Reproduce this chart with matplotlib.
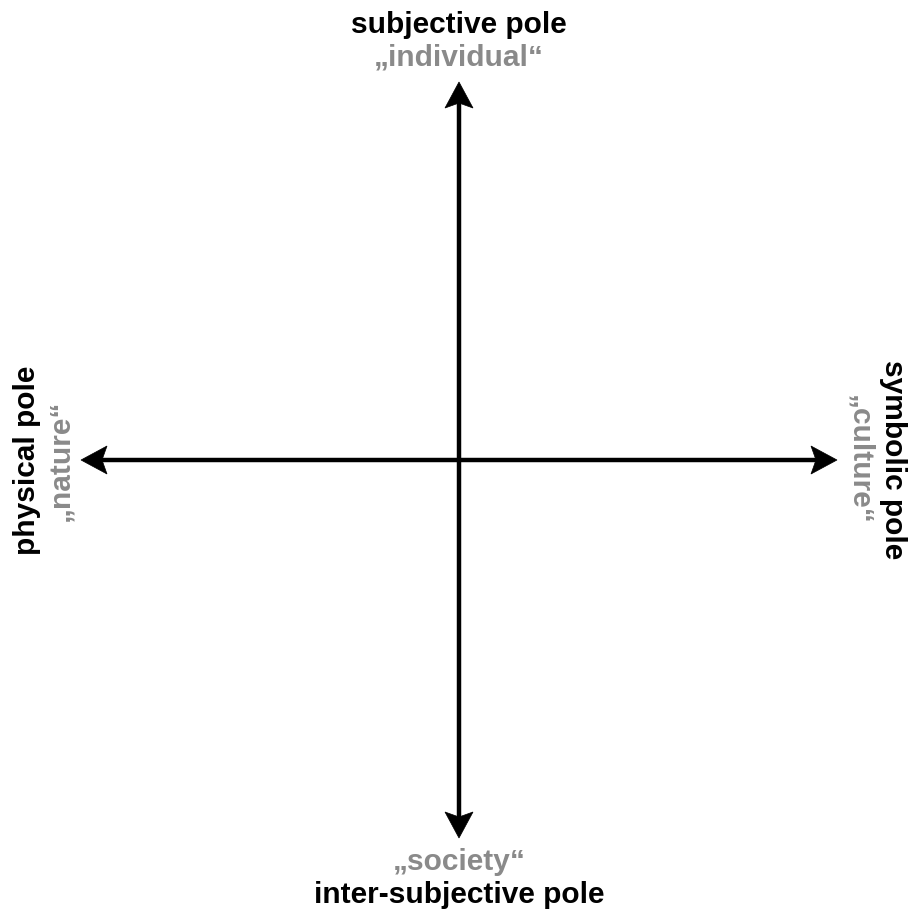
import numpy as np
import matplotlib.pyplot as plt
from matplotlib.patches import Polygon

# pole labels: (main, quoted)
top_labels = ["subjective pole", "\u201eindividual\u201c"]
bottom_labels = ["\u201esociety\u201c", "inter-subjective pole"]
left_labels = ["physical pole", "\u201enature\u201c"]
right_labels = ["symbolic pole", "\u201eculture\u201c"]

black = "#000000"
gray = "#8a8a8a"

plt.rcParams['font.family'] = ['Liberation Sans', 'DejaVu Sans']

fig = plt.figure(figsize=(9.11, 9.10), dpi=100)
ax = fig.add_axes([0, 0, 1, 1])
ax.set_xlim(-459, 452)
ax.set_ylim(-450, 460)
ax.axis("off")

L = 378          # half length of each axis (tip to centre)
head_len = 26
head_w = 14
notch = 5

def head(direction):
    d = np.array(direction, float)
    n = np.array([-d[1], d[0]])
    tip = d * L
    back = d * (L - head_len)
    pts = [tip, back + n * head_w, d * (L - head_len + notch), back - n * head_w]
    ax.add_patch(Polygon(pts, closed=True, color=black, lw=0.5, zorder=3))

base = L - head_len + notch + 1
ax.plot([-base, base], [0, 0], color=black, lw=3.2, solid_capstyle="butt")
ax.plot([0, 0], [-base, base], color=black, lw=3.2, solid_capstyle="butt")
for d in [(1, 0), (-1, 0), (0, 1), (0, -1)]:
    head(d)

fs = 21.5
# top
ax.text(0, 435, top_labels[0], ha="center", va="center", fontsize=fs,
        fontweight="bold", color=black)
ax.text(0, 403, top_labels[1], ha="center", va="center", fontsize=fs,
        fontweight="bold", color=gray)
# bottom
ax.text(0, -402, bottom_labels[0], ha="center", va="center", fontsize=fs,
        fontweight="bold", color=gray)
ax.text(0, -435, bottom_labels[1], ha="center", va="center", fontsize=fs,
        fontweight="bold", color=black)
# left
ax.text(-432, 0, left_labels[0], ha="center", va="center", fontsize=fs,
        fontweight="bold", color=black, rotation=90)
ax.text(-399, 0, left_labels[1], ha="center", va="center", fontsize=fs,
        fontweight="bold", color=gray, rotation=90)
# right
ax.text(434, 0, right_labels[0], ha="center", va="center", fontsize=fs,
        fontweight="bold", color=black, rotation=-90)
ax.text(400, 0, right_labels[1], ha="center", va="center", fontsize=fs,
        fontweight="bold", color=gray, rotation=-90)

fig.savefig("out.png", dpi=100, facecolor="white")
